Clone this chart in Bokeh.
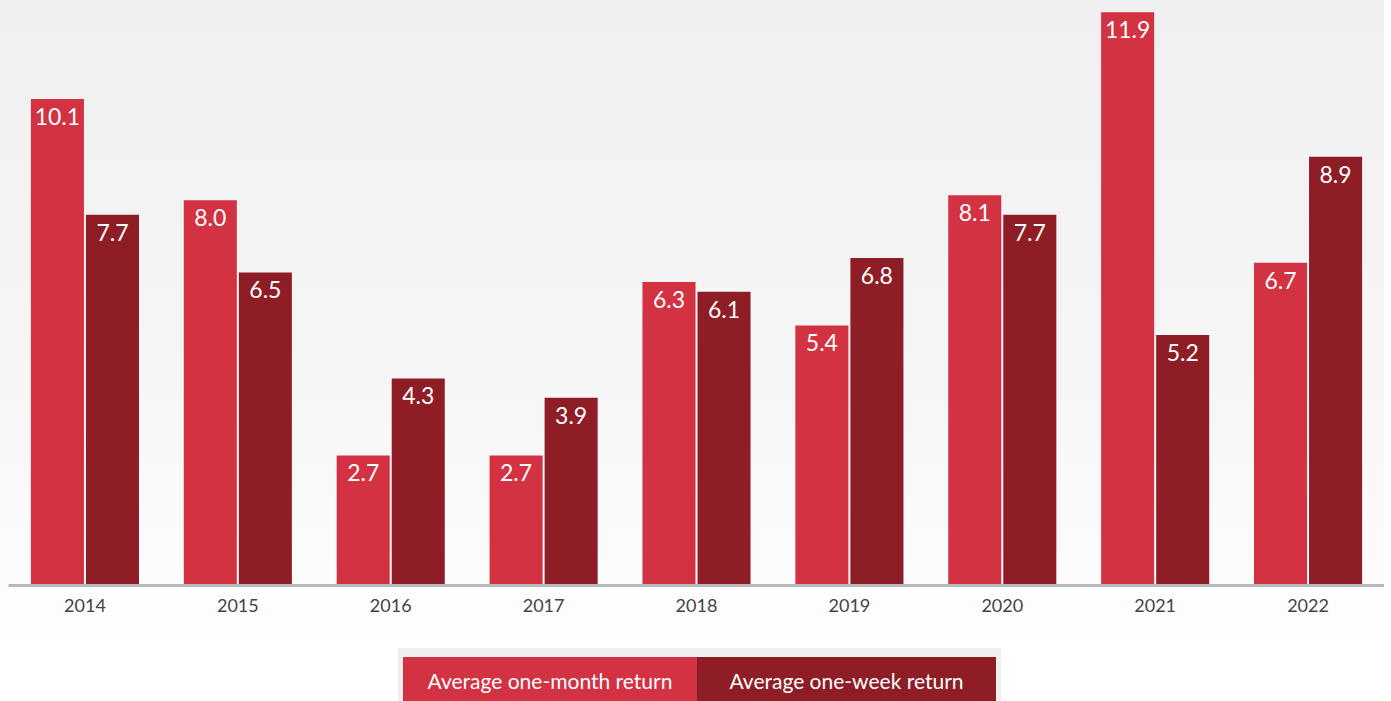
from bokeh.plotting import figure
from bokeh.models import ColumnDataSource, FactorRange, LabelSet, Div
from bokeh.transform import dodge
from bokeh.layouts import column
from bokeh.embed import file_html
from bokeh.resources import INLINE
from bokeh.core.properties import value

years = ["2014", "2015", "2016", "2017", "2018", "2019", "2020", "2021", "2022"]
one_month = [10.1, 8.0, 2.7, 2.7, 6.3, 5.4, 8.1, 11.9, 6.7]
one_week = [7.7, 6.5, 4.3, 3.9, 6.1, 6.8, 7.7, 5.2, 8.9]
series_names = ["Average one-month return", "Average one-week return"]
colors = ["#D33242", "#8E1D26"]

FONT = "Lato"

src = ColumnDataSource(dict(
    years=years,
    month=one_month,
    week=one_week,
    month_lbl=[f"{v:.1f}" for v in one_month],
    week_lbl=[f"{v:.1f}" for v in one_week],
))

p = figure(
    x_range=FactorRange(*years),
    y_range=(0, 11.98),
    frame_width=1376, frame_height=577,
    output_backend="svg", toolbar_location=None,
    min_border_left=8, min_border_right=0, min_border_top=8, min_border_bottom=55,
)
p.background_fill_color = None
p.border_fill_color = None
p.outline_line_color = None
p.styles = {"background": "linear-gradient(to bottom, #f0f0f0 0%, #f6f6f6 60%, #fefefe 100%)"}

bw = 0.347
off = 0.18
p.vbar(x=dodge("years", -off, range=p.x_range), top="month", width=bw, bottom=0,
       source=src, fill_color=colors[0], line_color=None)
p.vbar(x=dodge("years", off, range=p.x_range), top="week", width=bw, bottom=0,
       source=src, fill_color=colors[1], line_color=None)

for col, lbl, o in (("month", "month_lbl", -off), ("week", "week_lbl", off)):
    ls = LabelSet(x=dodge("years", o, range=p.x_range), y=col, text=lbl, source=src,
                  y_offset=-9, text_align="center", text_baseline="top",
                  text_color="white", text_font=value(FONT), text_font_size="23px")
    p.add_layout(ls)

p.yaxis.visible = False
p.xgrid.visible = False
p.ygrid.visible = False
p.xaxis.axis_line_color = "#B3BBC1"
p.xaxis.axis_line_width = 3
p.xaxis.major_tick_line_color = None
p.xaxis.minor_tick_line_color = None
p.xaxis.major_label_text_font = FONT
p.xaxis.major_label_text_font_size = "18px"
p.xaxis.major_label_text_color = "#444444"
p.xaxis.major_label_standoff = 7

box = ('color:white;height:46px;display:flex;flex:none;box-sizing:border-box;'
       'align-items:center;justify-content:center;font-size:21px;padding-top:2px;')
legend_html = (
    '<div style="margin-left:393px;margin-top:3px;background:#efefef;padding:9px 5px 0 5px;'
    'width:603px;box-sizing:border-box;display:flex;font-family:Lato, sans-serif;">'
    f'<div style="background:{colors[0]};width:294px;{box}">{series_names[0]}</div>'
    f'<div style="background:{colors[1]};width:299px;{box}">{series_names[1]}</div>'
    '</div>'
)
legend = Div(text=legend_html, width=1384, height=60)

layout = column(p, legend)
open("out.html", "w").write(file_html(layout, INLINE))
